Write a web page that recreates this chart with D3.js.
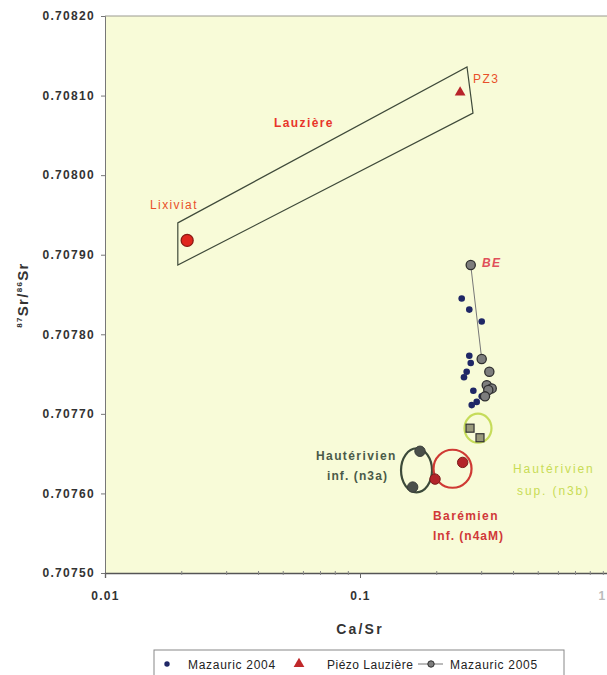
<!DOCTYPE html>
<html><head><meta charset="utf-8">
<script src="https://cdn.jsdelivr.net/npm/d3@7"></script>
<style>body{margin:0;background:#fff;}svg{display:block;font-family:"Liberation Sans",Arial,sans-serif;}</style>
</head><body>
<script>
// ---- data ----
const yTicks = [0.7075, 0.7076, 0.7077, 0.7078, 0.7079, 0.7080, 0.7081, 0.7082];
const xTicks = [0.01, 0.1, 1];
const mazauric2004 = [
  [0.2505, 0.707845], [0.2683, 0.707831], [0.3001, 0.707816],
  [0.2683, 0.707773], [0.2718, 0.707764], [0.2620, 0.707753], [0.2557, 0.707746],
  [0.2783, 0.707729], [0.2869, 0.707715], [0.2742, 0.707711], [0.3001, 0.707722]
];
const mazauric2005 = [
  [0.3001, 0.707769], [0.3215, 0.707753], [0.3141, 0.707736],
  [0.3285, 0.707732], [0.3185, 0.707730], [0.3092, 0.707722]
];
const mazauric2005Line = [[0.2718, 0.707887], [0.3001, 0.707769]];
const beca = [[0.2718, 0.707887]];
const n3bSquares = [[0.2701, 0.707682], [0.2955, 0.707670]];
const n3aPoints = [[0.1719, 0.707653], [0.1609, 0.707608]];
const n4aMPoints = [[0.2527, 0.707639], [0.1969, 0.707618]];
const piezo = [[0.247, 0.708104]];
const lixiviat = [[0.021, 0.707918]];
const lauzierePoly = [[0.0193, 0.707940], [0.2628, 0.708136], [0.2774, 0.708078], [0.0193, 0.707887]];
const groupCenters = {n3b: [0.2902, 0.707682], n3a: [0.1666, 0.707629], n4aM: [0.2306, 0.707631]};

// ---- layout ----
const W = 607, H = 675;
const pL = 105, pR = 615, pT = 16, pB = 573;
const svg = d3.select("body").append("svg").attr("width", W).attr("height", H);
const x = d3.scaleLog().domain([0.01, 1]).range([pL, pR]);
const y = d3.scaleLinear().domain([0.7075, 0.7082]).range([pB, pT]);

svg.append("rect").attr("x", pL).attr("y", pT).attr("width", pR - pL).attr("height", pB - pT)
  .attr("fill", "#f8fbd8");
svg.append("line").attr("x1", pL).attr("x2", pR).attr("y1", pT).attr("y2", pT).attr("stroke", "#9a9a90").attr("stroke-width", 1);

// y axis
const yAxis = d3.axisLeft(y).tickValues(yTicks).tickFormat(d3.format(".5f")).tickSize(4).tickPadding(6);
const gy = svg.append("g").attr("transform", `translate(${pL},0)`).call(yAxis);
gy.select(".domain").attr("stroke", "#777");
gy.selectAll(".tick line").attr("stroke", "#777");
gy.selectAll("text").attr("font-size", 12).attr("font-weight", "bold").attr("fill", "#333").attr("letter-spacing", 1.3);

// x axis
const minor = [];
[0.01, 0.1].forEach(d => { for (let k = 2; k <= 9; k++) minor.push(d * k); });
const xAxis = d3.axisBottom(x).tickValues(xTicks).tickFormat(d => d3.format("")(d)).tickSize(5).tickPadding(13);
const gx = svg.append("g").attr("transform", `translate(0,${pB})`).call(xAxis);
gx.select(".domain").attr("stroke", "#555").attr("stroke-width", 1.3);
gx.selectAll(".tick line").attr("stroke", "#666");
gx.selectAll("text").attr("font-size", 12).attr("font-weight", "bold").attr("fill", "#333").attr("letter-spacing", 1.3);
// last tick label sits at the cropped right edge: keep it inside the picture
gx.selectAll(".tick").filter(d => d === 1).select("text")
  .attr("text-anchor", "end").attr("x", W - 1 - x(1)).attr("fill", "#bbb");
svg.append("g").selectAll("line").data(minor).join("line")
  .attr("x1", d => x(d)).attr("x2", d => x(d)).attr("y1", pB - 2).attr("y2", pB + 2)
  .attr("stroke", "#888").attr("stroke-width", 1);

// axis titles
svg.append("text").attr("x", 360).attr("y", 634).attr("text-anchor", "middle")
  .attr("font-size", 14).attr("font-weight", "bold").attr("fill", "#333").attr("letter-spacing", 2.2).text("Ca/Sr");
const yt = svg.append("text").attr("transform", "translate(28,295) rotate(-90)").attr("text-anchor", "middle")
  .attr("font-weight", "bold").attr("fill", "#333").attr("font-size", 15).attr("letter-spacing", 1.3);
yt.append("tspan").attr("font-size", 8).attr("dy", -6).text("87");
yt.append("tspan").attr("dy", 6).text("Sr/");
yt.append("tspan").attr("font-size", 8).attr("dy", -6).text("86");
yt.append("tspan").attr("dy", 6).text("Sr");

// Lauzière parallelogram
svg.append("path").datum(lauzierePoly)
  .attr("d", d3.line().x(d => x(d[0])).y(d => y(d[1])).curve(d3.curveLinearClosed))
  .attr("fill", "none").attr("stroke", "#3f4a3a").attr("stroke-width", 1.2);

// group ellipses
svg.append("ellipse").attr("cx", x(groupCenters.n3a[0])).attr("cy", y(groupCenters.n3a[1]))
  .attr("rx", 15.5).attr("ry", 22).attr("fill", "none").attr("stroke", "#3c4a3a").attr("stroke-width", 2.2);
svg.append("ellipse").attr("cx", x(groupCenters.n4aM[0])).attr("cy", y(groupCenters.n4aM[1]))
  .attr("rx", 19).attr("ry", 19).attr("fill", "none").attr("stroke", "#cf3a34").attr("stroke-width", 2.2);
svg.append("ellipse").attr("cx", x(groupCenters.n3b[0])).attr("cy", y(groupCenters.n3b[1]))
  .attr("rx", 13.5).attr("ry", 14.5).attr("fill", "none").attr("stroke", "#c6dc5a").attr("stroke-width", 2.2);

// Mazauric 2005 line
svg.append("path").datum(mazauric2005Line)
  .attr("d", d3.line().x(d => x(d[0])).y(d => y(d[1])))
  .attr("stroke", "#777").attr("stroke-width", 1).attr("fill", "none");

// group points
svg.append("g").selectAll("circle").data(n3aPoints).join("circle")
  .attr("cx", d => x(d[0])).attr("cy", d => y(d[1])).attr("r", 5.2).attr("fill", "#4a4f4a").attr("stroke", "#3a3d3a");
svg.append("g").selectAll("circle").data(n4aMPoints).join("circle")
  .attr("cx", d => x(d[0])).attr("cy", d => y(d[1])).attr("r", 5.2).attr("fill", "#b3242a").attr("stroke", "#7a1a1a");
svg.append("g").selectAll("rect").data(n3bSquares).join("rect")
  .attr("x", d => x(d[0]) - 4).attr("y", d => y(d[1]) - 4).attr("width", 8).attr("height", 8)
  .attr("fill", "#9a9a7c").attr("stroke", "#333").attr("stroke-width", 1.2);

// Mazauric 2004 (navy dots)
svg.append("g").selectAll("circle").data(mazauric2004).join("circle")
  .attr("cx", d => x(d[0])).attr("cy", d => y(d[1])).attr("r", 3.3).attr("fill", "#1f2766");

// Mazauric 2005 (gray dots)
svg.append("g").selectAll("circle").data(mazauric2005.concat(beca)).join("circle")
  .attr("cx", d => x(d[0])).attr("cy", d => y(d[1])).attr("r", 4.6)
  .attr("fill", "#7d7d7d").attr("stroke", "#2f2f2f").attr("stroke-width", 1.3);

// Lixiviat & PZ3
svg.append("g").selectAll("circle").data(lixiviat).join("circle")
  .attr("cx", d => x(d[0])).attr("cy", d => y(d[1])).attr("r", 6).attr("fill", "#e0261e").attr("stroke", "#8a1a14").attr("stroke-width", 1.3);
const tri = d3.symbol().type(d3.symbolTriangle).size(50);
svg.append("g").selectAll("path").data(piezo).join("path")
  .attr("transform", d => `translate(${x(d[0])},${y(d[1])})`).attr("d", tri).attr("fill", "#b8242a");

// labels
function lab(t, px, py, col, opts = {}) {
  svg.append("text").attr("x", px).attr("y", py).attr("fill", col)
    .attr("font-size", opts.size || 12).attr("font-weight", opts.bold ? "bold" : "normal")
    .attr("font-style", opts.italic ? "italic" : "normal").attr("text-anchor", opts.anchor || "start")
    .attr("letter-spacing", opts.ls == null ? 1.4 : opts.ls).text(t);
}
lab("Lauzière", 304, 127, "#e8352a", {bold: true, anchor: "middle"});
lab("Lixiviat", 150, 209, "#e8502a");
lab("PZ3", 473, 83, "#e8502a");
lab("BE", 482, 267, "#e0505a", {bold: true, italic: true});
lab("Hautérivien", 316, 460, "#4a5a48", {bold: true});
lab("inf. (n3a)", 327, 480, "#4a5a48", {bold: true, ls: 1.1});
lab("Hautérivien", 513, 473, "#c8dc55", {ls: 1.9});
lab("sup. (n3b)", 517, 495, "#c8dc55", {ls: 1.9});
lab("Barémien", 433, 520, "#d03838", {bold: true});
lab("Inf. (n4aM)", 433, 540, "#d03838", {bold: true, ls: 1});

// legend
const lg = svg.append("g");
lg.append("rect").attr("x", 154).attr("y", 650).attr("width", 410).attr("height", 28)
  .attr("fill", "#fff").attr("stroke", "#888");
lg.append("circle").attr("cx", 167).attr("cy", 664).attr("r", 2.7).attr("fill", "#1f2766");
lg.append("text").attr("x", 188).attr("y", 669).attr("font-size", 12).attr("letter-spacing", 0.7).attr("fill", "#222").text("Mazauric 2004");
lg.append("path").attr("transform", "translate(299,664)").attr("d", tri).attr("fill", "#c0282a");
lg.append("text").attr("x", 327).attr("y", 669).attr("font-size", 12).attr("letter-spacing", 0.5).attr("fill", "#222").text("Piézo Lauzière");
lg.append("line").attr("x1", 418).attr("x2", 443).attr("y1", 664).attr("y2", 664).attr("stroke", "#777");
lg.append("circle").attr("cx", 431).attr("cy", 664).attr("r", 3.2).attr("fill", "#7d7d7d").attr("stroke", "#2f2f2f");
lg.append("text").attr("x", 450).attr("y", 669).attr("font-size", 12).attr("letter-spacing", 0.7).attr("fill", "#222").text("Mazauric 2005");
</script>
</body></html>
